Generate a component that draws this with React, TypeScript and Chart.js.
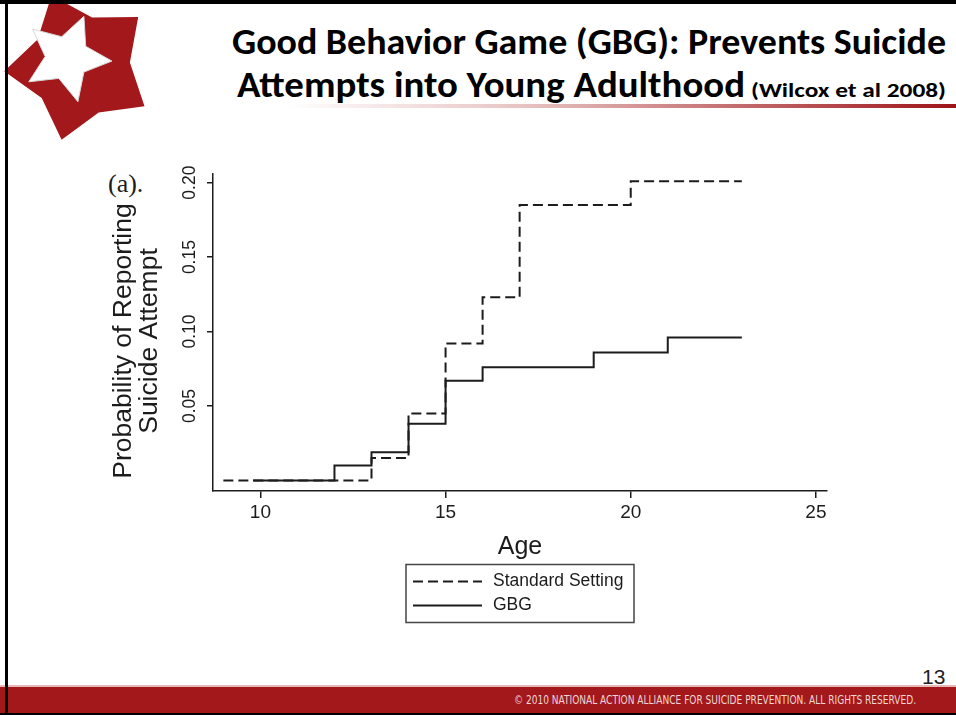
import React, { useEffect, useRef } from "react";
import { Chart, registerables } from "chart.js";

Chart.register(...registerables);

// ---- data ----
const seriesLabels = ["Standard Setting", "GBG"];
const standardAges = [9, 13, 14, 15, 16, 17, 20, 23];
const standardValues = [0, 0.015, 0.045, 0.092, 0.123, 0.185, 0.201, 0.201];
const gbgAges = [9.8, 12, 13, 14, 15, 16, 19, 21, 23];
const gbgValues = [0, 0.01, 0.019, 0.038, 0.067, 0.076, 0.086, 0.096, 0.096];
const xTickValues = [10, 15, 20, 25];
const yTickValues = [0.05, 0.1, 0.15, 0.2];
const xTitle = "Age";
const yTitle = ["Probability of Reporting", "Suicide Attempt"];

const INK = "#1c1c1c";
const SANS = '"Liberation Sans", Arial, Helvetica, sans-serif';
const RED = "#a3181b";

function starPoints(cx: number, cy: number, rOut: number, rIn: number, startDeg: number) {
  const pts: string[] = [];
  for (let i = 0; i < 10; i++) {
    const r = i % 2 === 0 ? rOut : rIn;
    const a = ((startDeg + i * 36) * Math.PI) / 180;
    pts.push(`${(cx + r * Math.cos(a)).toFixed(1)},${(cy + r * Math.sin(a)).toFixed(1)}`);
  }
  return pts.join(" ");
}

// Stata-style legend box under the plot
const stataLegend = {
  id: "stataLegend",
  afterDraw(chart: any, _args: any, opts: any) {
    const { ctx, chartArea } = chart;
    const cx = (chartArea.left + chartArea.right) / 2;
    const w = opts.width;
    const left = cx - w / 2;
    const top = chartArea.bottom + opts.offsetTop;
    ctx.save();
    ctx.strokeStyle = "#444";
    ctx.lineWidth = 1.5;
    ctx.setLineDash([]);
    ctx.strokeRect(left, top, w, opts.height);
    ctx.font = `${opts.fontSize}px ${SANS}`;
    ctx.textBaseline = "middle";
    ctx.textAlign = "left";
    chart.data.datasets.forEach((ds: any, i: number) => {
      const y = top + opts.rowTop + i * opts.rowGap;
      ctx.beginPath();
      ctx.setLineDash(ds.borderDash || []);
      ctx.strokeStyle = ds.borderColor;
      ctx.lineWidth = ds.borderWidth;
      ctx.moveTo(left + opts.lineStart, y);
      ctx.lineTo(left + opts.lineEnd, y);
      ctx.stroke();
      ctx.setLineDash([]);
      ctx.fillStyle = INK;
      ctx.fillText(ds.label, left + opts.textStart, y);
    });
    ctx.restore();
  },
};

// Two-line rotated y-axis title, centred a little below the plot middle as in the reference
const yAxisTitle = {
  id: "yAxisTitle",
  afterDraw(chart: any, _args: any, opts: any) {
    const { ctx, chartArea } = chart;
    ctx.save();
    ctx.font = `${opts.fontSize}px ${SANS}`;
    ctx.fillStyle = INK;
    ctx.textAlign = "center";
    ctx.textBaseline = "middle";
    const cy = chartArea.bottom - opts.centerFromBottom;
    (opts.lines as string[]).forEach((line, i) => {
      ctx.save();
      ctx.translate(chartArea.left - opts.firstOffset + i * opts.lineGap, cy);
      ctx.rotate(-Math.PI / 2);
      ctx.fillText(line, 0, 0);
      ctx.restore();
    });
    ctx.restore();
  },
};

function ChartCanvas() {
  const ref = useRef<HTMLCanvasElement | null>(null);
  useEffect(() => {
    if (!ref.current) return;
    const chart = new Chart(ref.current, {
      type: "line",
      data: {
        datasets: [
          {
            label: seriesLabels[0],
            data: standardAges.map((a, i) => ({ x: a, y: standardValues[i] })),
            stepped: true,
            borderColor: INK,
            borderWidth: 2,
            borderDash: [10, 5],
            pointRadius: 0,
            fill: false,
          },
          {
            label: seriesLabels[1],
            data: gbgAges.map((a, i) => ({ x: a, y: gbgValues[i] })),
            stepped: true,
            borderColor: INK,
            borderWidth: 2,
            pointRadius: 0,
            fill: false,
          },
        ],
      },
      options: {
        animation: false,
        responsive: false,
        maintainAspectRatio: false,
        layout: { padding: { left: 111, right: 129, top: 174, bottom: 153 } },
        plugins: {
          legend: { display: false },
          tooltip: { enabled: false },
          stataLegend: {
            width: 228,
            height: 58,
            offsetTop: 73.5,
            rowTop: 17,
            rowGap: 24,
            lineStart: 7,
            lineEnd: 76,
            textStart: 87,
            fontSize: 17.5,
          },
          yAxisTitle: {
            lines: yTitle,
            fontSize: 26.5,
            centerFromBottom: 150,
            firstOffset: 89,
            lineGap: 26,
          },
        } as any,
        scales: {
          x: {
            type: "linear",
            min: 8.72,
            max: 25.3,
            afterBuildTicks: (s: any) => {
              s.ticks = xTickValues.map((v) => ({ value: v }));
            },
            afterFit: (s: any) => {
              s.height = 71;
            },
            grid: { drawOnChartArea: false, drawTicks: true, tickLength: 7, color: INK, lineWidth: 1.5 },
            border: { display: true, color: INK, width: 1.5 },
            ticks: {
              color: INK,
              font: { family: SANS, size: 19 },
              padding: 3,
              maxRotation: 0,
              autoSkip: false,
            },
            title: {
              display: true,
              text: xTitle,
              color: INK,
              font: { family: SANS, size: 25, lineHeight: 1.2 },
              padding: 0,
            },
          },
          y: {
            type: "linear",
            min: -0.0071,
            max: 0.2058,
            afterBuildTicks: (s: any) => {
              s.ticks = yTickValues.map((v) => ({ value: v }));
            },
            afterFit: (s: any) => {
              s.width = 102;
            },
            grid: { drawOnChartArea: false, drawTicks: true, tickLength: 6, color: INK, lineWidth: 1.5 },
            border: { display: true, color: INK, width: 1.5 },
            ticks: {
              color: INK,
              font: { family: SANS, size: 17.5 },
              minRotation: 90,
              maxRotation: 90,
              crossAlign: "center",
              padding: 0,
              autoSkip: false,
              callback: (v: any) => Number(v).toFixed(2),
            },
            title: { display: false },
          },
        },
      } as any,
      plugins: [stataLegend, yAxisTitle],
    });
    return () => chart.destroy();
  }, []);
  return (
    <canvas
      ref={ref}
      width={956}
      height={715}
      style={{ position: "absolute", left: 0, top: 0, width: 956, height: 715 }}
    />
  );
}

const TITLE_FONT = 'Carlito, Lato, "Open Sans", sans-serif';

export default function App() {
  return (
    <div style={{ position: "absolute", left: 0, top: 0, width: 956, height: 715, background: "#fff", overflow: "hidden" }}>
      <svg width={956} height={715} style={{ position: "absolute", left: 0, top: 0 }}>
        <defs>
          <linearGradient id="titleRule" x1="0" x2="1" y1="0" y2="0">
            <stop offset="0" stopColor="#ffffff" />
            <stop offset="0.35" stopColor="#e8c4c4" />
            <stop offset="1" stopColor="#9e1418" />
          </linearGradient>
        </defs>
        {/* logo */}
        <polygon points={starPoints(80, 66, 76, 50, -40)} fill={RED} />
        <polygon points={starPoints(67, 58, 45, 22, -68)} fill="#ffffff" stroke="#d9d9d9" strokeWidth={1} />
        {/* title */}
        <text
          x={232}
          y={54}
          textLength={714}
          lengthAdjust="spacingAndGlyphs"
          style={{ fontFamily: TITLE_FONT, fontWeight: 700, fontSize: 36, fill: "#000" }}
        >
          Good Behavior Game (GBG): Prevents Suicide
        </text>
        <text
          x={237}
          y={97}
          textLength={508}
          lengthAdjust="spacingAndGlyphs"
          style={{ fontFamily: TITLE_FONT, fontWeight: 700, fontSize: 36, fill: "#000" }}
        >
          Attempts into Young Adulthood
        </text>
        <text
          x={751}
          y={97}
          textLength={195}
          lengthAdjust="spacingAndGlyphs"
          style={{ fontFamily: TITLE_FONT, fontWeight: 700, fontSize: 21, fill: "#000" }}
        >
          (Wilcox et al 2008)
        </text>
        <rect x={285} y={104} width={671} height={4} fill="url(#titleRule)" />
        {/* panel label */}
        <text x={108} y={192} style={{ fontFamily: '"Liberation Serif", "Times New Roman", serif', fontSize: 26, fill: INK }}>
          (a).
        </text>
        {/* page number */}
        <text x={922} y={684} style={{ fontFamily: SANS, fontSize: 21, fill: "#222" }}>
          13
        </text>
        {/* footer */}
        <rect x={0} y={685} width={956} height={2} fill="#e7b9b9" />
        <rect x={0} y={687} width={956} height={26} fill={RED} />
        <rect x={0} y={713} width={956} height={2} fill="#000" />
        <text
          x={514}
          y={704}
          textLength={402}
          lengthAdjust="spacingAndGlyphs"
          style={{ fontFamily: '"Liberation Sans Narrow", "DejaVu Sans Condensed", Arial, sans-serif', fontSize: 12, fill: "#ecd6d6" }}
        >
          © 2010 NATIONAL ACTION ALLIANCE FOR SUICIDE PREVENTION. ALL RIGHTS RESERVED.
        </text>
        {/* slide frame */}
        <rect x={0} y={0} width={956} height={4} fill="#000" />
        <rect x={5} y={0} width={3} height={715} fill="#000" />
      </svg>
      <ChartCanvas />
    </div>
  );
}
